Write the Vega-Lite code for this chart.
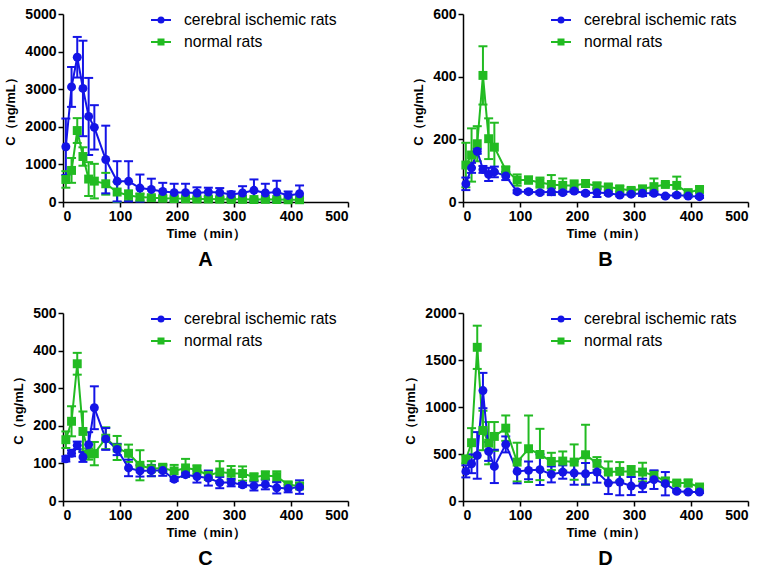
{
  "$schema": "https://vega.github.io/schema/vega-lite/v6.json",
  "padding": {"left": 4, "top": 7, "right": 5, "bottom": 5},
  "background": "white",
  "config": {
    "view": {"stroke": null},
    "font": "Liberation Sans",
    "axis": {"grid": false, "domainColor": "black", "domainWidth": 1.5, "tickColor": "black", "tickWidth": 1.5, "tickSize": 5, "labelFont": "Liberation Sans", "labelFontWeight": "bold", "labelFontSize": 14, "labelColor": "black", "titleFont": "Liberation Sans", "titleFontWeight": "bold", "titleFontSize": 13, "titleColor": "black", "labelPadding": 2, "format": "d"},
    "axisX": {"titlePadding": 4},
    "axisY": {"titlePadding": 7},
    "legend": {"title": null, "orient": "none", "legendX": 87, "legendY": -5, "labelFont": "Liberation Sans", "labelFontSize": 15.7, "labelColor": "black", "labelOffset": 12, "rowPadding": 3, "symbolSize": 400, "symbolStrokeWidth": 2},
    "title": {"font": "Liberation Sans", "fontSize": 20, "fontWeight": "bold", "color": "black", "orient": "bottom", "frame": "group", "offset": 10}
  },
  "datasets": {
    "d": [
      {"p":"A","g":"normal rats","t":5,"m":600,"lo":380,"hi":820},
      {"p":"A","g":"normal rats","t":15,"m":840,"lo":510,"hi":1170},
      {"p":"A","g":"normal rats","t":25,"m":1900,"lo":1570,"hi":2230},
      {"p":"A","g":"normal rats","t":35,"m":1210,"lo":965,"hi":1455},
      {"p":"A","g":"normal rats","t":45,"m":610,"lo":160,"hi":1060},
      {"p":"A","g":"normal rats","t":55,"m":555,"lo":95,"hi":1015},
      {"p":"A","g":"normal rats","t":75,"m":485,"lo":195,"hi":775},
      {"p":"A","g":"normal rats","t":95,"m":265,"lo":0,"hi":530},
      {"p":"A","g":"normal rats","t":115,"m":175,"lo":40,"hi":310},
      {"p":"A","g":"normal rats","t":135,"m":130,"lo":40,"hi":220},
      {"p":"A","g":"normal rats","t":155,"m":115,"lo":55,"hi":175},
      {"p":"A","g":"normal rats","t":175,"m":100,"lo":40,"hi":160},
      {"p":"A","g":"normal rats","t":195,"m":90,"lo":30,"hi":150},
      {"p":"A","g":"normal rats","t":215,"m":85,"lo":30,"hi":140},
      {"p":"A","g":"normal rats","t":235,"m":80,"lo":30,"hi":130},
      {"p":"A","g":"normal rats","t":255,"m":80,"lo":30,"hi":130},
      {"p":"A","g":"normal rats","t":275,"m":75,"lo":30,"hi":120},
      {"p":"A","g":"normal rats","t":295,"m":70,"lo":30,"hi":110},
      {"p":"A","g":"normal rats","t":315,"m":70,"lo":30,"hi":110},
      {"p":"A","g":"normal rats","t":335,"m":65,"lo":30,"hi":100},
      {"p":"A","g":"normal rats","t":355,"m":70,"lo":30,"hi":110},
      {"p":"A","g":"normal rats","t":375,"m":65,"lo":30,"hi":100},
      {"p":"A","g":"normal rats","t":395,"m":60,"lo":20,"hi":100},
      {"p":"A","g":"normal rats","t":415,"m":60,"lo":20,"hi":100},
      {"p":"A","g":"cerebral ischemic rats","t":5,"m":1470,"lo":720,"hi":2220},
      {"p":"A","g":"cerebral ischemic rats","t":15,"m":3060,"lo":2530,"hi":3590},
      {"p":"A","g":"cerebral ischemic rats","t":25,"m":3850,"lo":3310,"hi":4390},
      {"p":"A","g":"cerebral ischemic rats","t":35,"m":3020,"lo":1750,"hi":4290},
      {"p":"A","g":"cerebral ischemic rats","t":45,"m":2275,"lo":1250,"hi":3300},
      {"p":"A","g":"cerebral ischemic rats","t":55,"m":1985,"lo":1395,"hi":2575},
      {"p":"A","g":"cerebral ischemic rats","t":75,"m":1130,"lo":230,"hi":2030},
      {"p":"A","g":"cerebral ischemic rats","t":95,"m":550,"lo":15,"hi":1085},
      {"p":"A","g":"cerebral ischemic rats","t":115,"m":550,"lo":15,"hi":1085},
      {"p":"A","g":"cerebral ischemic rats","t":135,"m":370,"lo":10,"hi":730},
      {"p":"A","g":"cerebral ischemic rats","t":155,"m":335,"lo":50,"hi":620},
      {"p":"A","g":"cerebral ischemic rats","t":175,"m":280,"lo":50,"hi":510},
      {"p":"A","g":"cerebral ischemic rats","t":195,"m":250,"lo":15,"hi":485},
      {"p":"A","g":"cerebral ischemic rats","t":215,"m":250,"lo":15,"hi":485},
      {"p":"A","g":"cerebral ischemic rats","t":235,"m":240,"lo":90,"hi":390},
      {"p":"A","g":"cerebral ischemic rats","t":255,"m":265,"lo":150,"hi":380},
      {"p":"A","g":"cerebral ischemic rats","t":275,"m":250,"lo":130,"hi":370},
      {"p":"A","g":"cerebral ischemic rats","t":295,"m":200,"lo":120,"hi":280},
      {"p":"A","g":"cerebral ischemic rats","t":315,"m":240,"lo":60,"hi":420},
      {"p":"A","g":"cerebral ischemic rats","t":335,"m":310,"lo":20,"hi":600},
      {"p":"A","g":"cerebral ischemic rats","t":355,"m":240,"lo":0,"hi":485},
      {"p":"A","g":"cerebral ischemic rats","t":375,"m":265,"lo":0,"hi":565},
      {"p":"A","g":"cerebral ischemic rats","t":395,"m":175,"lo":70,"hi":280},
      {"p":"A","g":"cerebral ischemic rats","t":415,"m":220,"lo":0,"hi":440},

      {"p":"B","g":"normal rats","t":5,"m":118,"lo":47,"hi":189},
      {"p":"B","g":"normal rats","t":15,"m":150,"lo":65,"hi":235},
      {"p":"B","g":"normal rats","t":25,"m":186,"lo":130,"hi":242},
      {"p":"B","g":"normal rats","t":35,"m":404,"lo":311,"hi":497},
      {"p":"B","g":"normal rats","t":45,"m":202,"lo":137,"hi":267},
      {"p":"B","g":"normal rats","t":55,"m":175,"lo":97,"hi":253},
      {"p":"B","g":"normal rats","t":75,"m":102,"lo":91,"hi":113},
      {"p":"B","g":"normal rats","t":95,"m":70,"lo":52,"hi":88},
      {"p":"B","g":"normal rats","t":115,"m":70,"lo":59,"hi":81},
      {"p":"B","g":"normal rats","t":135,"m":62,"lo":46,"hi":78},
      {"p":"B","g":"normal rats","t":155,"m":56,"lo":26,"hi":86},
      {"p":"B","g":"normal rats","t":175,"m":53,"lo":31,"hi":75},
      {"p":"B","g":"normal rats","t":195,"m":53,"lo":37,"hi":69},
      {"p":"B","g":"normal rats","t":215,"m":59,"lo":48,"hi":70},
      {"p":"B","g":"normal rats","t":235,"m":51,"lo":40,"hi":62},
      {"p":"B","g":"normal rats","t":255,"m":48,"lo":40,"hi":56},
      {"p":"B","g":"normal rats","t":275,"m":42,"lo":33,"hi":51},
      {"p":"B","g":"normal rats","t":295,"m":37,"lo":30,"hi":44},
      {"p":"B","g":"normal rats","t":315,"m":42,"lo":33,"hi":51},
      {"p":"B","g":"normal rats","t":335,"m":49,"lo":23,"hi":75},
      {"p":"B","g":"normal rats","t":355,"m":56,"lo":50,"hi":62},
      {"p":"B","g":"normal rats","t":375,"m":53,"lo":25,"hi":81},
      {"p":"B","g":"normal rats","t":395,"m":30,"lo":23,"hi":37},
      {"p":"B","g":"normal rats","t":415,"m":40,"lo":31,"hi":49},
      {"p":"B","g":"cerebral ischemic rats","t":5,"m":58,"lo":38,"hi":78},
      {"p":"B","g":"cerebral ischemic rats","t":15,"m":109,"lo":93,"hi":125},
      {"p":"B","g":"cerebral ischemic rats","t":25,"m":162,"lo":154,"hi":170},
      {"p":"B","g":"cerebral ischemic rats","t":35,"m":104,"lo":93,"hi":115},
      {"p":"B","g":"cerebral ischemic rats","t":45,"m":88,"lo":67,"hi":109},
      {"p":"B","g":"cerebral ischemic rats","t":55,"m":96,"lo":79,"hi":113},
      {"p":"B","g":"cerebral ischemic rats","t":75,"m":83,"lo":70,"hi":96},
      {"p":"B","g":"cerebral ischemic rats","t":95,"m":33,"lo":28,"hi":38},
      {"p":"B","g":"cerebral ischemic rats","t":115,"m":33,"lo":28,"hi":38},
      {"p":"B","g":"cerebral ischemic rats","t":135,"m":30,"lo":25,"hi":35},
      {"p":"B","g":"cerebral ischemic rats","t":155,"m":33,"lo":22,"hi":44},
      {"p":"B","g":"cerebral ischemic rats","t":175,"m":30,"lo":25,"hi":35},
      {"p":"B","g":"cerebral ischemic rats","t":195,"m":35,"lo":30,"hi":40},
      {"p":"B","g":"cerebral ischemic rats","t":215,"m":28,"lo":23,"hi":33},
      {"p":"B","g":"cerebral ischemic rats","t":235,"m":30,"lo":16,"hi":44},
      {"p":"B","g":"cerebral ischemic rats","t":255,"m":28,"lo":23,"hi":33},
      {"p":"B","g":"cerebral ischemic rats","t":275,"m":22,"lo":18,"hi":26},
      {"p":"B","g":"cerebral ischemic rats","t":295,"m":25,"lo":21,"hi":29},
      {"p":"B","g":"cerebral ischemic rats","t":315,"m":28,"lo":19,"hi":37},
      {"p":"B","g":"cerebral ischemic rats","t":335,"m":28,"lo":23,"hi":33},
      {"p":"B","g":"cerebral ischemic rats","t":355,"m":19,"lo":15,"hi":23},
      {"p":"B","g":"cerebral ischemic rats","t":375,"m":22,"lo":17,"hi":27},
      {"p":"B","g":"cerebral ischemic rats","t":395,"m":19,"lo":15,"hi":23},
      {"p":"B","g":"cerebral ischemic rats","t":415,"m":17,"lo":13,"hi":21},

      {"p":"C","g":"normal rats","t":5,"m":163,"lo":141,"hi":185},
      {"p":"C","g":"normal rats","t":15,"m":212,"lo":172,"hi":252},
      {"p":"C","g":"normal rats","t":25,"m":365,"lo":336,"hi":394},
      {"p":"C","g":"normal rats","t":35,"m":185,"lo":132,"hi":238},
      {"p":"C","g":"normal rats","t":45,"m":125,"lo":110,"hi":140},
      {"p":"C","g":"normal rats","t":55,"m":126,"lo":95,"hi":157},
      {"p":"C","g":"normal rats","t":75,"m":167,"lo":138,"hi":196},
      {"p":"C","g":"normal rats","t":95,"m":141,"lo":109,"hi":173},
      {"p":"C","g":"normal rats","t":115,"m":127,"lo":104,"hi":150},
      {"p":"C","g":"normal rats","t":135,"m":95,"lo":55,"hi":135},
      {"p":"C","g":"normal rats","t":155,"m":86,"lo":66,"hi":106},
      {"p":"C","g":"normal rats","t":175,"m":88,"lo":77,"hi":99},
      {"p":"C","g":"normal rats","t":195,"m":80,"lo":64,"hi":96},
      {"p":"C","g":"normal rats","t":215,"m":88,"lo":64,"hi":112},
      {"p":"C","g":"normal rats","t":235,"m":83,"lo":71,"hi":95},
      {"p":"C","g":"normal rats","t":255,"m":68,"lo":56,"hi":80},
      {"p":"C","g":"normal rats","t":275,"m":77,"lo":48,"hi":106},
      {"p":"C","g":"normal rats","t":295,"m":74,"lo":55,"hi":93},
      {"p":"C","g":"normal rats","t":315,"m":73,"lo":54,"hi":92},
      {"p":"C","g":"normal rats","t":335,"m":64,"lo":55,"hi":73},
      {"p":"C","g":"normal rats","t":355,"m":68,"lo":57,"hi":79},
      {"p":"C","g":"normal rats","t":375,"m":65,"lo":51,"hi":79},
      {"p":"C","g":"normal rats","t":395,"m":43,"lo":36,"hi":50},
      {"p":"C","g":"normal rats","t":415,"m":40,"lo":32,"hi":48},
      {"p":"C","g":"cerebral ischemic rats","t":5,"m":112,"lo":105,"hi":119},
      {"p":"C","g":"cerebral ischemic rats","t":15,"m":127,"lo":119,"hi":135},
      {"p":"C","g":"cerebral ischemic rats","t":25,"m":148,"lo":138,"hi":158},
      {"p":"C","g":"cerebral ischemic rats","t":35,"m":117,"lo":104,"hi":130},
      {"p":"C","g":"cerebral ischemic rats","t":45,"m":150,"lo":117,"hi":183},
      {"p":"C","g":"cerebral ischemic rats","t":55,"m":248,"lo":191,"hi":305},
      {"p":"C","g":"cerebral ischemic rats","t":75,"m":165,"lo":136,"hi":194},
      {"p":"C","g":"cerebral ischemic rats","t":95,"m":137,"lo":122,"hi":152},
      {"p":"C","g":"cerebral ischemic rats","t":115,"m":88,"lo":66,"hi":110},
      {"p":"C","g":"cerebral ischemic rats","t":135,"m":80,"lo":65,"hi":95},
      {"p":"C","g":"cerebral ischemic rats","t":155,"m":81,"lo":66,"hi":96},
      {"p":"C","g":"cerebral ischemic rats","t":175,"m":81,"lo":67,"hi":95},
      {"p":"C","g":"cerebral ischemic rats","t":195,"m":58,"lo":53,"hi":63},
      {"p":"C","g":"cerebral ischemic rats","t":215,"m":70,"lo":65,"hi":75},
      {"p":"C","g":"cerebral ischemic rats","t":235,"m":65,"lo":49,"hi":81},
      {"p":"C","g":"cerebral ischemic rats","t":255,"m":61,"lo":41,"hi":81},
      {"p":"C","g":"cerebral ischemic rats","t":275,"m":49,"lo":34,"hi":64},
      {"p":"C","g":"cerebral ischemic rats","t":295,"m":49,"lo":39,"hi":59},
      {"p":"C","g":"cerebral ischemic rats","t":315,"m":43,"lo":38,"hi":48},
      {"p":"C","g":"cerebral ischemic rats","t":335,"m":40,"lo":28,"hi":52},
      {"p":"C","g":"cerebral ischemic rats","t":355,"m":44,"lo":31,"hi":57},
      {"p":"C","g":"cerebral ischemic rats","t":375,"m":35,"lo":20,"hi":50},
      {"p":"C","g":"cerebral ischemic rats","t":395,"m":33,"lo":23,"hi":43},
      {"p":"C","g":"cerebral ischemic rats","t":415,"m":37,"lo":19,"hi":55},

      {"p":"D","g":"normal rats","t":5,"m":442,"lo":399,"hi":485},
      {"p":"D","g":"normal rats","t":15,"m":620,"lo":465,"hi":775},
      {"p":"D","g":"normal rats","t":25,"m":1635,"lo":1405,"hi":1865},
      {"p":"D","g":"normal rats","t":35,"m":750,"lo":540,"hi":960},
      {"p":"D","g":"normal rats","t":45,"m":615,"lo":390,"hi":840},
      {"p":"D","g":"normal rats","t":55,"m":687,"lo":534,"hi":840},
      {"p":"D","g":"normal rats","t":75,"m":775,"lo":640,"hi":910},
      {"p":"D","g":"normal rats","t":95,"m":414,"lo":208,"hi":620},
      {"p":"D","g":"normal rats","t":115,"m":556,"lo":202,"hi":910},
      {"p":"D","g":"normal rats","t":135,"m":495,"lo":222,"hi":768},
      {"p":"D","g":"normal rats","t":155,"m":421,"lo":329,"hi":513},
      {"p":"D","g":"normal rats","t":175,"m":425,"lo":323,"hi":527},
      {"p":"D","g":"normal rats","t":195,"m":414,"lo":226,"hi":602},
      {"p":"D","g":"normal rats","t":215,"m":492,"lo":173,"hi":811},
      {"p":"D","g":"normal rats","t":235,"m":400,"lo":333,"hi":467},
      {"p":"D","g":"normal rats","t":255,"m":308,"lo":195,"hi":421},
      {"p":"D","g":"normal rats","t":275,"m":315,"lo":216,"hi":414},
      {"p":"D","g":"normal rats","t":295,"m":315,"lo":258,"hi":372},
      {"p":"D","g":"normal rats","t":315,"m":308,"lo":209,"hi":407},
      {"p":"D","g":"normal rats","t":335,"m":273,"lo":226,"hi":320},
      {"p":"D","g":"normal rats","t":355,"m":209,"lo":168,"hi":250},
      {"p":"D","g":"normal rats","t":375,"m":191,"lo":167,"hi":215},
      {"p":"D","g":"normal rats","t":395,"m":191,"lo":155,"hi":227},
      {"p":"D","g":"normal rats","t":415,"m":149,"lo":128,"hi":170},
      {"p":"D","g":"cerebral ischemic rats","t":5,"m":315,"lo":251,"hi":379},
      {"p":"D","g":"cerebral ischemic rats","t":15,"m":396,"lo":296,"hi":496},
      {"p":"D","g":"cerebral ischemic rats","t":25,"m":485,"lo":237,"hi":733},
      {"p":"D","g":"cerebral ischemic rats","t":35,"m":1175,"lo":987,"hi":1363},
      {"p":"D","g":"cerebral ischemic rats","t":45,"m":527,"lo":427,"hi":627},
      {"p":"D","g":"cerebral ischemic rats","t":55,"m":368,"lo":191,"hi":545},
      {"p":"D","g":"cerebral ischemic rats","t":75,"m":602,"lo":517,"hi":687},
      {"p":"D","g":"cerebral ischemic rats","t":95,"m":315,"lo":188,"hi":442},
      {"p":"D","g":"cerebral ischemic rats","t":115,"m":326,"lo":231,"hi":421},
      {"p":"D","g":"cerebral ischemic rats","t":135,"m":333,"lo":170,"hi":496},
      {"p":"D","g":"cerebral ischemic rats","t":155,"m":283,"lo":198,"hi":368},
      {"p":"D","g":"cerebral ischemic rats","t":175,"m":308,"lo":237,"hi":379},
      {"p":"D","g":"cerebral ischemic rats","t":195,"m":297,"lo":173,"hi":421},
      {"p":"D","g":"cerebral ischemic rats","t":215,"m":290,"lo":176,"hi":404},
      {"p":"D","g":"cerebral ischemic rats","t":235,"m":308,"lo":195,"hi":421},
      {"p":"D","g":"cerebral ischemic rats","t":255,"m":191,"lo":74,"hi":308},
      {"p":"D","g":"cerebral ischemic rats","t":275,"m":202,"lo":61,"hi":343},
      {"p":"D","g":"cerebral ischemic rats","t":295,"m":159,"lo":63,"hi":255},
      {"p":"D","g":"cerebral ischemic rats","t":315,"m":166,"lo":95,"hi":237},
      {"p":"D","g":"cerebral ischemic rats","t":335,"m":227,"lo":128,"hi":326},
      {"p":"D","g":"cerebral ischemic rats","t":355,"m":184,"lo":60,"hi":308},
      {"p":"D","g":"cerebral ischemic rats","t":375,"m":103,"lo":91,"hi":115},
      {"p":"D","g":"cerebral ischemic rats","t":395,"m":96,"lo":84,"hi":108},
      {"p":"D","g":"cerebral ischemic rats","t":415,"m":96,"lo":84,"hi":108}
    ]
  },
  "data": {"name": "d"},
  "columns": 2,
  "spacing": {"column": 55, "row": 36},
  "concat": [
    {
      "width": 285, "height": 188,
      "title": "A",
      "transform": [{"filter": "datum.p === 'A'"}],
      "encoding": {
        "x": {"field": "t", "type": "quantitative", "scale": {"domain": [0, 500], "nice": false}, "axis": {"values": [0, 100, 200, 300, 400, 500], "title": "Time（min）"}}
      },
      "layer": [
        {"mark": {"type": "rule", "strokeWidth": 2}, "encoding": {"y": {"field": "lo", "type": "quantitative", "scale": {"domain": [0, 5000], "nice": false}, "axis": {"values": [0, 1000, 2000, 3000, 4000, 5000], "title": "C（ng/mL）"}}, "y2": {"field": "hi"}, "stroke": {"field": "g", "type": "nominal", "scale": {"domain": ["cerebral ischemic rats", "normal rats"], "range": ["#1414e6", "#22bb22"]}}}},
        {"mark": {"type": "tick", "orient": "horizontal", "size": 9, "thickness": 2, "opacity": 1}, "encoding": {"y": {"field": "lo", "type": "quantitative", "scale": {"domain": [0, 5000], "nice": false}, "axis": {"values": [0, 1000, 2000, 3000, 4000, 5000], "title": "C（ng/mL）"}}, "fill": {"field": "g", "type": "nominal", "scale": {"domain": ["cerebral ischemic rats", "normal rats"], "range": ["#1414e6", "#22bb22"]}}}},
        {"mark": {"type": "tick", "orient": "horizontal", "size": 9, "thickness": 2, "opacity": 1}, "encoding": {"y": {"field": "hi", "type": "quantitative", "scale": {"domain": [0, 5000], "nice": false}, "axis": {"values": [0, 1000, 2000, 3000, 4000, 5000], "title": "C（ng/mL）"}}, "fill": {"field": "g", "type": "nominal", "scale": {"domain": ["cerebral ischemic rats", "normal rats"], "range": ["#1414e6", "#22bb22"]}}}},
        {"mark": {"type": "line", "strokeWidth": 2}, "encoding": {"y": {"field": "m", "type": "quantitative", "scale": {"domain": [0, 5000], "nice": false}, "axis": {"values": [0, 1000, 2000, 3000, 4000, 5000], "title": "C（ng/mL）"}}, "stroke": {"field": "g", "type": "nominal", "scale": {"domain": ["cerebral ischemic rats", "normal rats"], "range": ["#1414e6", "#22bb22"]}}}},
        {"mark": {"type": "point", "filled": true, "size": 80, "opacity": 1, "strokeWidth": 0}, "encoding": {"y": {"field": "m", "type": "quantitative", "scale": {"domain": [0, 5000], "nice": false}, "axis": {"values": [0, 1000, 2000, 3000, 4000, 5000], "title": "C（ng/mL）"}}, "fill": {"field": "g", "type": "nominal", "scale": {"domain": ["cerebral ischemic rats", "normal rats"], "range": ["#1414e6", "#22bb22"]}}, "shape": {"condition": {"test": "datum.g === 'normal rats'", "value": "square"}, "value": "circle"}}},
        {"transform": [{"filter": "datum.t < 0"}], "mark": {"type": "point", "filled": true, "opacity": 1, "strokeWidth": 2}, "encoding": {"y": {"field": "m", "type": "quantitative", "scale": {"domain": [0, 5000], "nice": false}, "axis": {"values": [0, 1000, 2000, 3000, 4000, 5000], "title": "C（ng/mL）"}}, "fill": {"field": "g", "type": "nominal", "scale": {"domain": ["cerebral ischemic rats", "normal rats"], "range": ["#1414e6", "#22bb22"]}}, "stroke": {"field": "g", "type": "nominal", "scale": {"domain": ["cerebral ischemic rats", "normal rats"], "range": ["#1414e6", "#22bb22"]}}, "shape": {"field": "g", "type": "nominal", "scale": {"domain": ["cerebral ischemic rats", "normal rats"], "range": ["M-1,0L1,0M0.25,0A0.25,0.25,0,1,1,-0.25,0A0.25,0.25,0,1,1,0.25,0Z", "M-1,0L1,0M-0.25,-0.25L0.25,-0.25L0.25,0.25L-0.25,0.25Z"]}}}}
      ]
    },
    {
      "width": 285, "height": 188,
      "title": "B",
      "transform": [{"filter": "datum.p === 'B'"}],
      "encoding": {
        "x": {"field": "t", "type": "quantitative", "scale": {"domain": [0, 500], "nice": false}, "axis": {"values": [0, 100, 200, 300, 400, 500], "title": "Time（min）"}}
      },
      "layer": [
        {"mark": {"type": "rule", "strokeWidth": 2}, "encoding": {"y": {"field": "lo", "type": "quantitative", "scale": {"domain": [0, 600], "nice": false}, "axis": {"values": [0, 200, 400, 600], "title": "C（ng/mL）"}}, "y2": {"field": "hi"}, "stroke": {"field": "g", "type": "nominal", "scale": {"domain": ["cerebral ischemic rats", "normal rats"], "range": ["#1414e6", "#22bb22"]}}}},
        {"mark": {"type": "tick", "orient": "horizontal", "size": 9, "thickness": 2, "opacity": 1}, "encoding": {"y": {"field": "lo", "type": "quantitative", "scale": {"domain": [0, 600], "nice": false}, "axis": {"values": [0, 200, 400, 600], "title": "C（ng/mL）"}}, "fill": {"field": "g", "type": "nominal", "scale": {"domain": ["cerebral ischemic rats", "normal rats"], "range": ["#1414e6", "#22bb22"]}}}},
        {"mark": {"type": "tick", "orient": "horizontal", "size": 9, "thickness": 2, "opacity": 1}, "encoding": {"y": {"field": "hi", "type": "quantitative", "scale": {"domain": [0, 600], "nice": false}, "axis": {"values": [0, 200, 400, 600], "title": "C（ng/mL）"}}, "fill": {"field": "g", "type": "nominal", "scale": {"domain": ["cerebral ischemic rats", "normal rats"], "range": ["#1414e6", "#22bb22"]}}}},
        {"mark": {"type": "line", "strokeWidth": 2}, "encoding": {"y": {"field": "m", "type": "quantitative", "scale": {"domain": [0, 600], "nice": false}, "axis": {"values": [0, 200, 400, 600], "title": "C（ng/mL）"}}, "stroke": {"field": "g", "type": "nominal", "scale": {"domain": ["cerebral ischemic rats", "normal rats"], "range": ["#1414e6", "#22bb22"]}}}},
        {"mark": {"type": "point", "filled": true, "size": 80, "opacity": 1, "strokeWidth": 0}, "encoding": {"y": {"field": "m", "type": "quantitative", "scale": {"domain": [0, 600], "nice": false}, "axis": {"values": [0, 200, 400, 600], "title": "C（ng/mL）"}}, "fill": {"field": "g", "type": "nominal", "scale": {"domain": ["cerebral ischemic rats", "normal rats"], "range": ["#1414e6", "#22bb22"]}}, "shape": {"condition": {"test": "datum.g === 'normal rats'", "value": "square"}, "value": "circle"}}},
        {"transform": [{"filter": "datum.t < 0"}], "mark": {"type": "point", "filled": true, "opacity": 1, "strokeWidth": 2}, "encoding": {"y": {"field": "m", "type": "quantitative", "scale": {"domain": [0, 600], "nice": false}, "axis": {"values": [0, 200, 400, 600], "title": "C（ng/mL）"}}, "fill": {"field": "g", "type": "nominal", "scale": {"domain": ["cerebral ischemic rats", "normal rats"], "range": ["#1414e6", "#22bb22"]}}, "stroke": {"field": "g", "type": "nominal", "scale": {"domain": ["cerebral ischemic rats", "normal rats"], "range": ["#1414e6", "#22bb22"]}}, "shape": {"field": "g", "type": "nominal", "scale": {"domain": ["cerebral ischemic rats", "normal rats"], "range": ["M-1,0L1,0M0.25,0A0.25,0.25,0,1,1,-0.25,0A0.25,0.25,0,1,1,0.25,0Z", "M-1,0L1,0M-0.25,-0.25L0.25,-0.25L0.25,0.25L-0.25,0.25Z"]}}}}
      ]
    },
    {
      "width": 285, "height": 188,
      "title": "C",
      "transform": [{"filter": "datum.p === 'C'"}],
      "encoding": {
        "x": {"field": "t", "type": "quantitative", "scale": {"domain": [0, 500], "nice": false}, "axis": {"values": [0, 100, 200, 300, 400, 500], "title": "Time（min）"}}
      },
      "layer": [
        {"mark": {"type": "rule", "strokeWidth": 2}, "encoding": {"y": {"field": "lo", "type": "quantitative", "scale": {"domain": [0, 500], "nice": false}, "axis": {"values": [0, 100, 200, 300, 400, 500], "title": "C（ng/mL）"}}, "y2": {"field": "hi"}, "stroke": {"field": "g", "type": "nominal", "scale": {"domain": ["cerebral ischemic rats", "normal rats"], "range": ["#1414e6", "#22bb22"]}}}},
        {"mark": {"type": "tick", "orient": "horizontal", "size": 9, "thickness": 2, "opacity": 1}, "encoding": {"y": {"field": "lo", "type": "quantitative", "scale": {"domain": [0, 500], "nice": false}, "axis": {"values": [0, 100, 200, 300, 400, 500], "title": "C（ng/mL）"}}, "fill": {"field": "g", "type": "nominal", "scale": {"domain": ["cerebral ischemic rats", "normal rats"], "range": ["#1414e6", "#22bb22"]}}}},
        {"mark": {"type": "tick", "orient": "horizontal", "size": 9, "thickness": 2, "opacity": 1}, "encoding": {"y": {"field": "hi", "type": "quantitative", "scale": {"domain": [0, 500], "nice": false}, "axis": {"values": [0, 100, 200, 300, 400, 500], "title": "C（ng/mL）"}}, "fill": {"field": "g", "type": "nominal", "scale": {"domain": ["cerebral ischemic rats", "normal rats"], "range": ["#1414e6", "#22bb22"]}}}},
        {"mark": {"type": "line", "strokeWidth": 2}, "encoding": {"y": {"field": "m", "type": "quantitative", "scale": {"domain": [0, 500], "nice": false}, "axis": {"values": [0, 100, 200, 300, 400, 500], "title": "C（ng/mL）"}}, "stroke": {"field": "g", "type": "nominal", "scale": {"domain": ["cerebral ischemic rats", "normal rats"], "range": ["#1414e6", "#22bb22"]}}}},
        {"mark": {"type": "point", "filled": true, "size": 80, "opacity": 1, "strokeWidth": 0}, "encoding": {"y": {"field": "m", "type": "quantitative", "scale": {"domain": [0, 500], "nice": false}, "axis": {"values": [0, 100, 200, 300, 400, 500], "title": "C（ng/mL）"}}, "fill": {"field": "g", "type": "nominal", "scale": {"domain": ["cerebral ischemic rats", "normal rats"], "range": ["#1414e6", "#22bb22"]}}, "shape": {"condition": {"test": "datum.g === 'normal rats'", "value": "square"}, "value": "circle"}}},
        {"transform": [{"filter": "datum.t < 0"}], "mark": {"type": "point", "filled": true, "opacity": 1, "strokeWidth": 2}, "encoding": {"y": {"field": "m", "type": "quantitative", "scale": {"domain": [0, 500], "nice": false}, "axis": {"values": [0, 100, 200, 300, 400, 500], "title": "C（ng/mL）"}}, "fill": {"field": "g", "type": "nominal", "scale": {"domain": ["cerebral ischemic rats", "normal rats"], "range": ["#1414e6", "#22bb22"]}}, "stroke": {"field": "g", "type": "nominal", "scale": {"domain": ["cerebral ischemic rats", "normal rats"], "range": ["#1414e6", "#22bb22"]}}, "shape": {"field": "g", "type": "nominal", "scale": {"domain": ["cerebral ischemic rats", "normal rats"], "range": ["M-1,0L1,0M0.25,0A0.25,0.25,0,1,1,-0.25,0A0.25,0.25,0,1,1,0.25,0Z", "M-1,0L1,0M-0.25,-0.25L0.25,-0.25L0.25,0.25L-0.25,0.25Z"]}}}}
      ]
    },
    {
      "width": 285, "height": 188,
      "title": "D",
      "transform": [{"filter": "datum.p === 'D'"}],
      "encoding": {
        "x": {"field": "t", "type": "quantitative", "scale": {"domain": [0, 500], "nice": false}, "axis": {"values": [0, 100, 200, 300, 400, 500], "title": "Time（min）"}}
      },
      "layer": [
        {"mark": {"type": "rule", "strokeWidth": 2}, "encoding": {"y": {"field": "lo", "type": "quantitative", "scale": {"domain": [0, 2000], "nice": false}, "axis": {"values": [0, 500, 1000, 1500, 2000], "title": "C（ng/mL）"}}, "y2": {"field": "hi"}, "stroke": {"field": "g", "type": "nominal", "scale": {"domain": ["cerebral ischemic rats", "normal rats"], "range": ["#1414e6", "#22bb22"]}}}},
        {"mark": {"type": "tick", "orient": "horizontal", "size": 9, "thickness": 2, "opacity": 1}, "encoding": {"y": {"field": "lo", "type": "quantitative", "scale": {"domain": [0, 2000], "nice": false}, "axis": {"values": [0, 500, 1000, 1500, 2000], "title": "C（ng/mL）"}}, "fill": {"field": "g", "type": "nominal", "scale": {"domain": ["cerebral ischemic rats", "normal rats"], "range": ["#1414e6", "#22bb22"]}}}},
        {"mark": {"type": "tick", "orient": "horizontal", "size": 9, "thickness": 2, "opacity": 1}, "encoding": {"y": {"field": "hi", "type": "quantitative", "scale": {"domain": [0, 2000], "nice": false}, "axis": {"values": [0, 500, 1000, 1500, 2000], "title": "C（ng/mL）"}}, "fill": {"field": "g", "type": "nominal", "scale": {"domain": ["cerebral ischemic rats", "normal rats"], "range": ["#1414e6", "#22bb22"]}}}},
        {"mark": {"type": "line", "strokeWidth": 2}, "encoding": {"y": {"field": "m", "type": "quantitative", "scale": {"domain": [0, 2000], "nice": false}, "axis": {"values": [0, 500, 1000, 1500, 2000], "title": "C（ng/mL）"}}, "stroke": {"field": "g", "type": "nominal", "scale": {"domain": ["cerebral ischemic rats", "normal rats"], "range": ["#1414e6", "#22bb22"]}}}},
        {"mark": {"type": "point", "filled": true, "size": 80, "opacity": 1, "strokeWidth": 0}, "encoding": {"y": {"field": "m", "type": "quantitative", "scale": {"domain": [0, 2000], "nice": false}, "axis": {"values": [0, 500, 1000, 1500, 2000], "title": "C（ng/mL）"}}, "fill": {"field": "g", "type": "nominal", "scale": {"domain": ["cerebral ischemic rats", "normal rats"], "range": ["#1414e6", "#22bb22"]}}, "shape": {"condition": {"test": "datum.g === 'normal rats'", "value": "square"}, "value": "circle"}}},
        {"transform": [{"filter": "datum.t < 0"}], "mark": {"type": "point", "filled": true, "opacity": 1, "strokeWidth": 2}, "encoding": {"y": {"field": "m", "type": "quantitative", "scale": {"domain": [0, 2000], "nice": false}, "axis": {"values": [0, 500, 1000, 1500, 2000], "title": "C（ng/mL）"}}, "fill": {"field": "g", "type": "nominal", "scale": {"domain": ["cerebral ischemic rats", "normal rats"], "range": ["#1414e6", "#22bb22"]}}, "stroke": {"field": "g", "type": "nominal", "scale": {"domain": ["cerebral ischemic rats", "normal rats"], "range": ["#1414e6", "#22bb22"]}}, "shape": {"field": "g", "type": "nominal", "scale": {"domain": ["cerebral ischemic rats", "normal rats"], "range": ["M-1,0L1,0M0.25,0A0.25,0.25,0,1,1,-0.25,0A0.25,0.25,0,1,1,0.25,0Z", "M-1,0L1,0M-0.25,-0.25L0.25,-0.25L0.25,0.25L-0.25,0.25Z"]}}}}
      ]
    }
  ],
  "resolve": {"scale": {"y": "independent", "fill": "independent", "stroke": "independent", "shape": "independent"}, "legend": {"fill": "independent", "stroke": "independent", "shape": "independent"}}
}
